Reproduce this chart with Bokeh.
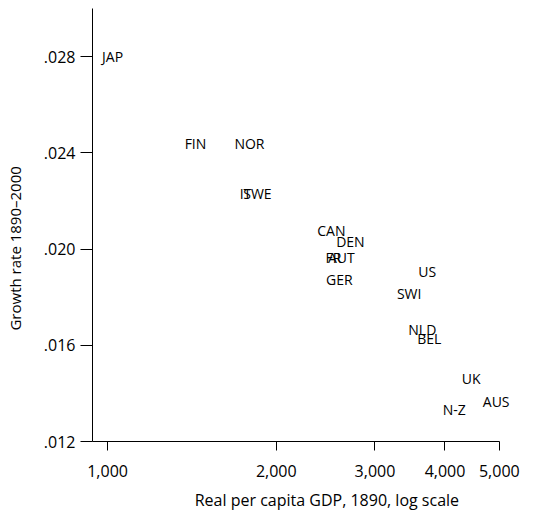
from bokeh.plotting import figure
from bokeh.models import ColumnDataSource, FixedTicker, CustomJSTickFormatter, Range1d
from bokeh.core.properties import value
from bokeh.embed import file_html
from bokeh.resources import INLINE

countries = ["JAP", "FIN", "NOR", "IT", "SWE", "CAN", "DEN", "FR", "AUT", "GER",
             "US", "SWI", "NLD", "BEL", "UK", "AUS", "N-Z"]
gdp_1890 = [1021, 1435, 1791, 1762, 1851, 2508, 2712, 2529, 2613, 2592,
            3719, 3453, 3644, 3749, 4455, 4936, 4155]
growth = [0.0280, 0.02437, 0.0244, 0.0223, 0.02233, 0.02079, 0.02033, 0.01963, 0.01963, 0.01875,
          0.01908, 0.01817, 0.01667, 0.01629, 0.014625, 0.013667, 0.01333]

x_ticks = [1000, 2000, 3000, 4000, 5000]
y_ticks = [0.012, 0.016, 0.020, 0.024, 0.028]

FONT = "Open Sans"
NB = "\u00a0"

src = ColumnDataSource(dict(x=gdp_1890, y=growth, label=countries))

p = figure(width=556, height=519, x_axis_type="log",
           x_range=Range1d(940, 5922), y_range=Range1d(0.012, 0.0300),
           output_backend="svg", toolbar_location=None,
           min_border_left=92, min_border_right=16, min_border_top=8, min_border_bottom=78)

p.text(x="x", y="y", text="label", source=src, text_align="center", text_baseline="middle",
       text_font=value(FONT), text_font_size="14px", text_color="black")

p.grid.visible = False
p.outline_line_color = None
p.background_fill_color = "white"
p.border_fill_color = "white"

p.xaxis.ticker = FixedTicker(ticks=x_ticks)
p.yaxis.ticker = FixedTicker(ticks=y_ticks)
p.xaxis.bounds = (940, 5000)
p.xaxis.formatter = CustomJSTickFormatter(code="""
    return Math.round(tick).toString().replace(/\\B(?=(\\d{3})+(?!\\d))/g, ",");
""")
p.yaxis.formatter = CustomJSTickFormatter(code="""
    return tick.toFixed(3).replace(/^0/, "");
""")

for ax in (p.xaxis, p.yaxis):
    ax.axis_line_color = "black"
    ax.major_tick_line_color = "black"
    ax.minor_tick_line_color = None
    ax.major_tick_in = 0
    ax.major_label_text_font = FONT
    ax.major_label_text_font_size = "16px"
    ax.major_label_text_color = "black"
    ax.axis_label_text_font = FONT
    ax.axis_label_text_font_style = "normal"
    ax.axis_label_text_color = "black"

p.xaxis.axis_label_text_font_size = "16px"
p.yaxis.axis_label_text_font_size = "15px"
p.xaxis.major_tick_out = 9
p.yaxis.major_tick_out = 12
p.xaxis.major_label_standoff = 14
p.yaxis.major_label_standoff = 5
p.xaxis.axis_label = NB * 5 + "Real per capita GDP, 1890, log scale"
p.yaxis.axis_label = "Growth rate 1890\u20132000" + NB * 12
p.xaxis.axis_label_standoff = 9
p.yaxis.axis_label_standoff = 16

open("out.html", "w").write(file_html(p, INLINE))
